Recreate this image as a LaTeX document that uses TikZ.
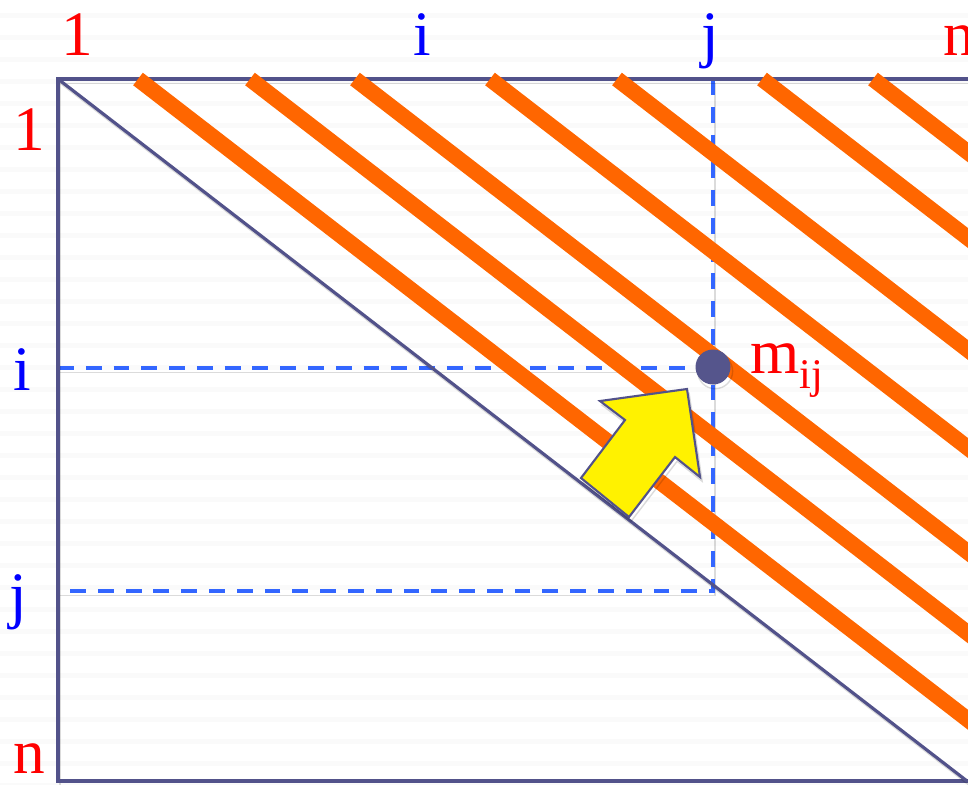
\documentclass[tikz,border=0pt]{standalone}
\usepackage{fontspec}
\setmainfont{Liberation Serif}
\usepackage{tikz}

\definecolor{frameblue}{RGB}{82,82,138}
\definecolor{dotblue}{RGB}{85,85,140}
\definecolor{bandorange}{RGB}{255,102,0}
\definecolor{dashblue}{RGB}{51,102,255}
\definecolor{labred}{RGB}{255,0,0}
\definecolor{labblue}{RGB}{0,0,255}

\begin{document}
\begin{tikzpicture}[x=0.01cm, y=-0.01cm,
  every node/.style={font=\fontsize{18}{20}\selectfont, inner sep=0pt, anchor=base},
  shade/.style={preaction={draw=black, draw opacity=.14, transform canvas={shift={(0.6pt,-1.2pt)}}}},
  frame/.style={draw=frameblue, line width=0.9pt, shade},
  band/.style={draw=bandorange, line width=4.5pt, shade},
  guide/.style={draw=dashblue, line width=1pt, dash pattern=on 4.5pt off 3.4pt, shade},
  rlab/.style={text=labred}, blab/.style={text=labblue},
  pointer/.style={fill=yellow, draw=frameblue, line width=0.6pt, line join=miter}]
\clip (0,0) rectangle (968,784);
% faint background stripes
\foreach \k in {0,...,35}
  \fill[black!2] (0,{13+22*\k}) rectangle (968,{18+22*\k});
% matrix corners and guide points
\coordinate (tl) at (58,79);
\coordinate (tr) at (1000,79);
\coordinate (bl) at (58,781);
\coordinate (br) at (967,781);
\coordinate (brr) at (1000,781);
\coordinate (rowi) at (58,368);
\coordinate (rowj) at (58,591);
\coordinate (colj) at (713,79);
\coordinate (corner) at (713,591);
% guides
\draw[guide] (colj) -- (corner) -- (rowj);
\draw[guide] (rowi) -- (713,368);
% frame and main diagonal
\draw[frame] (tr) -- (tl) -- (bl) -- (brr);
\draw[frame] (tl) -- (br);
% diagonals
\foreach \s in {138,250,355,490,617,762,873}
  \draw[band] (\s,79) -- ++(1000,772);
% element m_ij
\node[circle, fill=dotblue, minimum size=0.35cm, anchor=center, shade] (mij) at (713,367) {};
\node[rlab, anchor=base west] (mlab) at (750,373) {m\raisebox{-4.3pt}{\fontsize{12}{12}\selectfont ij}};
% pointer
\draw[pointer, shade] (687,389) -- (700,477) -- (675,457) -- (629,517) -- (581,478) -- (625,420) -- (600,401) -- cycle;
% column labels
\node[rlab] (c1) at (77,55) {1};
\node[blab] (ci) at (422,55) {i};
\node[blab] (cj) at (710,55) {j};
\node[rlab] (cn) at (959,55) {n};
% row labels
\node[rlab] (r1) at (29,150) {1};
\node[blab] (ri) at (22,390) {i};
\node[blab] (rj) at (18,616) {j};
\node[rlab] (rn) at (29,773) {n};
\end{tikzpicture}
\end{document}
